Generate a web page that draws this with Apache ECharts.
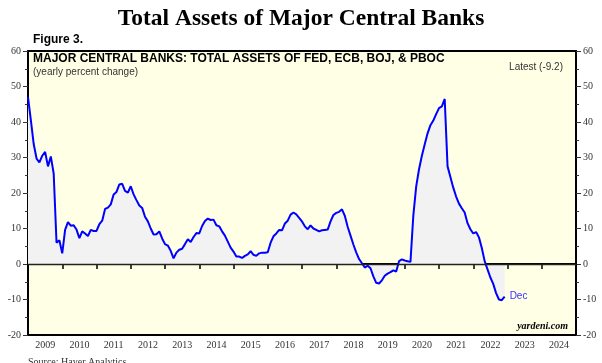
<!DOCTYPE html>
<html><head><meta charset="utf-8">
<script src="https://cdn.jsdelivr.net/npm/echarts@6/dist/echarts.min.js"></script>
<style>html,body{margin:0;padding:0;background:#fff}#c{width:602px;height:363px}</style>
</head><body><div id="c"></div>
<script>
// Year categories for the bottom axis
const years = ['2009','2010','2011','2012','2013','2014','2015','2016','2017','2018','2019','2020','2021','2022','2023','2024'];
// Y tick labels
const yTicks = [-20,-10,0,10,20,30,40,50,60];
// Monthly yearly % change, Jan 2009 .. Dec 2022
const v2009 = [47.0,40.5,33.8,29.7,28.6,30.5,31.6,27.5,30.3,25.5,6.0,6.7];
const v2010 = [3.0,9.6,11.8,10.8,10.9,9.7,7.3,9.2,8.6,7.9,9.6,9.3];
const v2011 = [9.3,11.2,12.2,15.5,15.9,16.8,19.6,20.3,22.4,22.6,20.6,20.1];
const v2012 = [21.9,19.6,18.0,16.5,15.8,13.3,12.0,10.0,8.3,8.4,9.2,7.2];
const v2013 = [5.6,5.2,3.7,1.6,3.2,4.0,4.3,5.6,7.0,6.2,7.6,8.7];
const v2014 = [8.6,10.7,12.1,12.8,12.4,12.5,10.9,10.6,9.2,8.0,6.3,4.6];
const v2015 = [3.5,2.1,2.1,1.7,2.3,2.7,3.6,2.6,2.3,3.0,3.2,3.2];
const v2016 = [3.3,6.0,7.8,8.6,9.6,9.5,11.4,12.2,13.9,14.5,14.0,13.0];
const v2017 = [12.0,10.6,9.8,10.9,10.0,9.6,9.2,9.5,9.6,9.7,12.0,13.8];
const v2018 = [14.4,14.7,15.4,13.6,10.5,8.0,5.5,3.3,1.4,0.2,-1.0,-0.5];
const v2019 = [-1.2,-3.5,-5.3,-5.5,-4.6,-3.3,-2.7,-2.3,-1.8,-2.1,0.8,1.3];
const v2020 = [1.0,0.8,0.6,13.6,21.8,26.7,30.5,33.7,36.8,39.1,40.4,42.2];
const v2021 = [43.9,44.4,46.5,27.5,24.5,21.5,19.0,17.0,15.7,14.5,11.5,9.8];
const v2022 = [8.6,9.0,7.5,4.5,0.8,-1.5,-3.8,-5.6,-8.2,-10.0,-10.2,-9.2];
const latestLabel = 'Latest (-9.2)';
const endMonth = 'Dec';

const values = [].concat(v2009,v2010,v2011,v2012,v2013,v2014,v2015,v2016,v2017,v2018,v2019,v2020,v2021,v2022);
const startYear = Number(years[0]);
const seriesData = values.map((v, i) => [startYear + i / 12, v]);

const serif = 'Liberation Serif';
const sans = 'Liberation Sans';
const chart = echarts.init(document.getElementById('c'), null, {renderer: 'canvas'});
const yAxisCommon = {
  type: 'value', min: yTicks[0], max: yTicks[yTicks.length - 1], interval: 10,
  axisLine: {show: true, lineStyle: {color: '#000', width: 2}},
  axisTick: {show: true, length: 5, lineStyle: {color: '#333'}},
  minorTick: {show: true, splitNumber: 2, length: 3, lineStyle: {color: '#333'}},
  splitLine: {show: false},
  axisLabel: {fontFamily: serif, fontSize: 10, color: '#333', margin: 7}
};
chart.setOption({
  animation: false,
  grid: {left: 28, right: 26, top: 51, bottom: 28, show: true, backgroundColor: '#FFFFE6', borderColor: '#000', borderWidth: 2},
  xAxis: [
    {type: 'category', data: years, boundaryGap: true, position: 'bottom',
     axisLine: {show: true, lineStyle: {color: '#000', width: 2}},
     axisTick: {show: true, length: 5, lineStyle: {color: '#000', width: 1.5}},
     axisLabel: {fontFamily: serif, fontSize: 10, color: '#333', margin: 5}},
    {type: 'value', min: startYear, max: startYear + years.length, show: false}
  ],
  yAxis: [
    Object.assign({position: 'left'}, yAxisCommon),
    Object.assign({position: 'right'}, yAxisCommon)
  ],
  series: [{
    type: 'line', xAxisIndex: 1, yAxisIndex: 0, data: seriesData, showSymbol: false,
    lineStyle: {color: '#0000FF', width: 2}, itemStyle: {color: '#0000FF'},
    areaStyle: {color: '#F2F2F2', origin: 0, opacity: 1},
    endLabel: {show: true, formatter: endMonth, color: '#3333FF', fontFamily: sans, fontSize: 10, distance: 5},
    markLine: {silent: true, symbol: 'none', label: {show: false},
      lineStyle: {color: '#222', width: 1.3, type: 'solid'}, data: [{yAxis: 0}]},
    z: 3
  }],
  graphic: [
    {type: 'text', left: 'center', top: 7, style: {text: 'Total Assets of Major Central Banks', font: 'bold 23.5px "Liberation Serif"', fill: '#000'}},
    {type: 'text', left: 33, top: 34, style: {text: 'Figure 3.', font: 'bold 12px "Liberation Sans"', fill: '#000'}},
    {type: 'text', left: 33, top: 53, z: 10, style: {text: 'MAJOR CENTRAL BANKS: TOTAL ASSETS OF FED, ECB, BOJ, & PBOC', font: 'bold 12px "Liberation Sans"', fill: '#000'}},
    {type: 'text', left: 33, top: 67, z: 10, style: {text: '(yearly percent change)', font: '10px "Liberation Sans"', fill: '#333'}},
    {type: 'text', right: 39, top: 62, z: 10, style: {text: latestLabel, font: '10px "Liberation Sans"', fill: '#333'}},
    {type: 'text', right: 34, top: 321, z: 10, style: {text: 'yardeni.com', font: 'italic bold 10px "Liberation Serif"', fill: '#000'}},
    {type: 'text', left: 28, top: 357, style: {text: 'Source: Haver Analytics.', font: '10px "Liberation Serif"', fill: '#333'}}
  ]
});
</script></body></html>
